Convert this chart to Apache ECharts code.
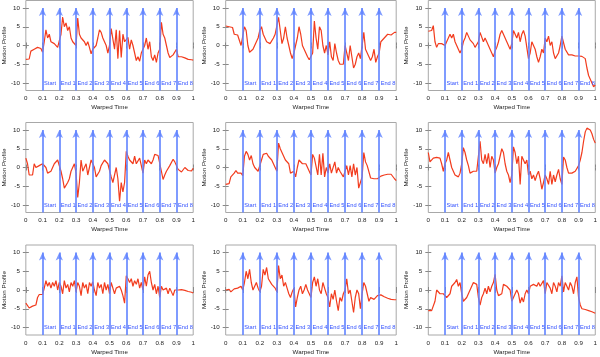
<!DOCTYPE html>
<html><head><meta charset="utf-8">
<script src="https://cdn.jsdelivr.net/npm/echarts@6/dist/echarts.min.js"></script>
<style>html,body{margin:0;padding:0;background:#fff}#c{width:600px;height:357px}</style>
</head><body><div id="c"></div>
<script>
const times = [0,0.01,0.02,0.03,0.04,0.05,0.06,0.07,0.08,0.09,0.1,0.11,0.12,0.13,0.14,0.15,0.16,0.17,0.18,0.19,0.2,0.21,0.22,0.23,0.24,0.25,0.26,0.27,0.28,0.29,0.3,0.31,0.32,0.33,0.34,0.35,0.36,0.37,0.38,0.39,0.4,0.41,0.42,0.43,0.44,0.45,0.46,0.47,0.48,0.49,0.5,0.51,0.52,0.53,0.54,0.55,0.56,0.57,0.58,0.59,0.6,0.61,0.62,0.63,0.64,0.65,0.66,0.67,0.68,0.69,0.7,0.71,0.72,0.73,0.74,0.75,0.76,0.77,0.78,0.79,0.8,0.81,0.82,0.83,0.84,0.85,0.86,0.87,0.88,0.89,0.9,0.91,0.92,0.93,0.94,0.95,0.96,0.97,0.98,0.99,1];
const arrowTimes = [0.1,0.2,0.3,0.4,0.5,0.6,0.7,0.8,0.9];
const arrowLabels = ['Start','End 1','End 2','End 3','End 4','End 5','End 6','End 7','End 8'];
const yTicks = [-10,-5,0,5,10];

const profile1 = [-3.7,-3.7,-3.6,-1.5,-1.0,-1.0,-0.7,-0.5,-0.3,-0.8,-1.8,1.0,4.2,2.0,3.0,1.0,1.5,0.5,0.0,-0.5,-0.8,3.0,7.6,5.0,6.0,4.0,5.0,2.0,1.0,1.5,0.0,7.3,3.0,2.0,2.5,1.0,0.0,1.0,-0.5,-2.2,-1.0,-1.5,0.0,2.0,4.2,3.5,2.0,1.0,0.0,-2.0,0.0,4.5,5.0,-1.0,4.2,-3.5,4.0,-3.2,3.0,1.0,0.5,2.2,-1.0,1.5,0.0,-2.0,-4.0,-3.0,-4.2,-2.0,-1.0,0.0,2.0,-1.0,1.0,-3.0,-4.0,-2.5,-4.5,-2.0,-1.0,6.2,3.0,2.0,0.0,-2.0,-3.2,-3.0,-2.5,-3.0,-1.0,-3.0,-2.8,-3.0,-3.2,-3.3,-3.5,-3.7,-3.8,-3.8,-3.9];
const profile2 = [5.2,5.0,5.0,5.0,4.8,3.0,2.8,2.8,3.0,0.0,-0.5,5.0,4.0,0.0,-1.8,-1.5,-1.0,0.0,1.0,2.0,4.0,5.0,3.0,2.0,1.0,0.5,0.5,1.0,2.0,3.0,3.5,7.5,4.0,0.5,2.0,5.0,2.0,0.0,-2.0,-3.5,-2.0,0.0,2.0,5.0,3.0,0.0,-1.0,-2.0,-3.0,-3.8,-3.5,-2.0,6.5,2.0,-1.0,5.0,4.0,0.0,-2.0,0.0,-2.5,1.0,-3.0,-4.0,0.5,-2.0,-4.0,-5.0,-5.5,-5.0,0.0,-2.0,-4.0,0.0,-3.0,-6.0,-5.0,-3.0,-2.0,-3.5,-3.8,3.5,-1.0,-2.0,-3.0,-4.0,-3.0,-1.0,-4.5,-3.0,-2.0,1.0,1.5,2.0,2.5,3.0,3.0,2.8,3.2,3.5,3.5];
const profile3 = [3.8,3.7,4.0,5.3,1.0,-0.5,0.5,1.0,0.5,0.3,0.0,1.0,2.0,3.0,2.0,3.0,1.0,0.0,-1.0,-2.0,-1.0,1.0,2.0,3.5,3.0,1.5,1.0,0.5,-0.5,0.0,1.0,3.5,3.0,1.0,2.0,1.0,0.0,0.5,-2.0,-3.0,-1.5,-0.5,1.0,3.0,4.0,3.0,3.5,1.0,0.5,-1.0,0.5,4.0,4.5,2.0,3.5,1.0,3.0,4.0,2.5,3.0,-3.5,-2.0,1.0,0.0,-1.0,-3.0,-4.5,-3.0,-1.0,-2.0,2.0,1.0,2.5,0.0,1.0,-2.0,-3.5,-4.0,-2.0,0.0,2.5,2.0,-1.0,-1.5,-2.5,-2.2,-2.5,-2.8,-2.8,-2.8,-2.8,-2.8,-2.9,-3.0,-3.5,-6.0,-8.0,-9.0,-10.0,-11.0,-10.5];
const profile4 = [2.5,1.0,-2.0,-1.5,-2.0,1.0,0.0,0.5,0.5,1.0,1.0,1.5,0.0,-1.5,-1.5,-1.0,0.0,1.0,1.5,2.0,1.5,-1.0,-3.0,-5.5,-6.0,-4.0,-3.0,-1.0,0.0,1.0,-1.5,-8.0,-4.0,2.0,-1.0,0.0,1.0,-2.0,0.0,2.0,1.0,0.0,-2.5,-2.0,-1.0,0.5,1.0,2.0,1.5,1.0,1.5,-2.5,-4.0,-2.0,0.0,-3.0,-9.0,-4.0,-6.5,-4.0,4.3,3.0,2.0,2.5,1.0,3.0,1.0,1.0,2.5,0.5,-1.5,2.0,1.0,2.0,2.5,1.0,2.0,3.5,3.0,3.2,3.0,-1.0,-3.2,-2.0,-1.0,-0.5,0.5,1.0,2.2,1.5,0.5,-0.5,-1.0,-1.2,-1.0,0.0,-0.5,-0.8,-1.0,-0.9,-0.2];
const profile5 = [-4.5,-4.5,-4.3,-2.5,-2.0,-1.5,-0.8,-1.5,-1.8,-1.5,-2.2,3.0,4.3,3.5,2.0,3.2,1.0,0.0,0.5,-1.0,-1.5,2.0,3.5,3.0,3.8,3.0,3.5,2.0,1.5,0.0,-1.0,6.5,5.0,4.0,3.0,2.0,1.5,1.0,-1.5,-2.0,-1.0,-2.5,0.0,2.0,1.5,1.0,0.5,1.0,0.0,-0.5,-2.0,3.5,2.5,3.0,-2.0,3.5,-2.0,3.8,-2.5,0.0,-1.5,1.0,-1.5,-1.0,1.5,-1.5,0.0,-1.0,-1.5,-2.5,-1.0,0.5,-2.0,0.5,-2.5,1.0,-2.0,0.0,-5.5,-4.0,-2.5,4.0,1.5,0.5,0.5,-2.8,-2.5,-3.0,-3.2,-3.0,-2.5,-2.3,-2.2,-2.0,-1.8,-1.8,-1.6,-1.8,-2.2,-3.0,-3.5];
const profile6 = [4.0,1.5,2.0,2.5,2.8,2.7,2.5,2.5,1.0,-1.0,1.0,2.0,4.0,2.0,0.0,-1.0,-2.0,-2.5,-2.5,-1.5,1.0,5.3,4.0,2.0,0.5,-1.5,-2.0,-1.0,-1.5,-1.0,-1.5,7.0,2.0,1.0,3.5,1.0,3.8,0.0,3.0,2.0,-1.5,0.0,1.0,3.0,5.0,4.0,1.0,-1.0,-2.0,-4.0,-2.0,5.5,4.0,1.0,3.0,-4.5,3.0,2.5,1.0,2.0,-2.0,-1.0,-3.0,-2.0,-3.5,-2.0,-1.0,-3.0,-5.8,-4.0,-2.0,-3.0,-4.5,-1.0,-4.5,-2.0,-3.8,-2.0,-0.5,-3.0,-4.5,2.8,2.0,0.0,-1.5,-2.0,-1.5,-2.0,-1.0,-0.5,0.5,2.0,4.0,7.0,9.5,10.5,10.5,10.0,9.0,7.5,6.5];
const profile7 = [-3.5,-3.0,-4.8,-4.5,-4.3,-4.0,-4.0,-2.0,-1.2,-1.0,-1.2,0.5,2.5,1.0,2.0,0.5,2.0,1.0,2.5,0.0,2.0,1.0,-1.0,2.5,0.5,1.5,-0.5,2.0,1.0,2.5,-0.5,2.0,1.0,-1.5,2.0,0.5,1.5,-1.0,2.0,1.0,2.2,0.0,-1.5,2.0,0.5,1.5,-1.0,2.0,0.0,1.5,-1.0,2.0,0.5,-1.0,0.5,0.0,1.0,0.0,-1.5,-3.5,3.8,3.0,2.0,3.0,1.0,2.5,1.5,3.0,0.5,2.0,0.0,3.5,1.0,4.0,5.0,2.0,0.0,1.5,-1.0,1.0,-2.0,1.0,0.0,-0.5,0.5,-1.0,0.5,-0.5,-1.5,0.0,-0.3,0.0,0.2,0.1,0.0,-0.1,-0.3,-0.4,-0.5,-0.6,-0.8];
const profile8 = [0.0,0.5,0.2,-0.5,0.0,0.3,0.5,0.5,0.8,1.0,0.0,2.0,5.0,3.0,5.5,2.0,0.0,1.0,2.0,0.5,-0.5,1.0,5.5,4.0,6.0,3.0,3.5,1.5,2.0,0.5,-0.5,6.5,3.0,4.0,1.0,2.0,0.5,-1.0,-2.0,-0.5,0.5,-4.5,-2.0,0.0,1.0,-1.0,0.0,1.5,0.0,-1.0,-2.0,2.0,3.5,1.0,3.0,0.0,-1.0,2.0,0.5,-1.0,-2.0,-4.5,-1.0,-2.5,0.0,-3.0,-5.5,-2.0,-3.0,-1.0,0.0,3.0,-1.0,0.0,-3.0,-6.0,-2.0,0.0,-1.0,-5.0,-1.0,2.0,1.0,-1.0,-3.0,-2.0,-1.5,-2.5,-2.0,-1.5,-1.2,-1.3,-1.5,-1.8,-2.0,-2.2,-2.3,-2.5,-2.6,-2.6,-2.6];
const profile9 = [-5.5,-5.3,-5.5,-5.3,-3.0,0.0,-0.5,-1.0,-0.5,-1.0,-1.5,-2.0,-1.5,-1.0,1.0,1.5,2.0,2.8,1.0,2.0,-1.0,-3.0,-3.0,-2.0,-1.0,0.0,1.0,2.0,2.0,1.5,-2.0,-4.0,-2.0,-1.0,0.5,-1.0,1.0,-0.5,1.0,2.0,4.2,0.0,-1.5,-2.0,-1.0,1.5,2.0,1.0,1.5,0.0,-3.0,-2.0,-1.5,0.0,-1.0,-3.5,-2.0,-3.2,-1.0,0.0,-1.0,1.0,0.5,1.5,2.0,1.0,2.0,1.0,0.5,2.5,-1.0,2.0,1.5,0.5,-1.0,2.0,1.0,-0.5,2.0,1.0,3.8,-0.5,2.0,2.5,0.0,2.0,1.0,-1.0,2.0,3.5,-2.0,-4.0,-5.0,-5.0,-5.2,-5.3,-5.5,-5.6,-5.8,-6.0,-6.2];
const profiles = [profile1,profile2,profile3,profile4,profile5,profile6,profile7,profile8,profile9];

const FONT = '"Liberation Sans", Arial, Helvetica, sans-serif';
const colLeft = [22.7, 225.7, 428.3];
const rowTop = [0.5, 122.5, 245];
const W = 170.5, H = 90;

const grids = [], xAxes = [], yAxes = [], series = [];
const tickStyle = {inside: true, length: 3, lineStyle: {color: '#888', width: 1}};
profiles.forEach((prof, i) => {
  const r = Math.floor(i / 3), c = i % 3;
  grids.push({left: colLeft[c], top: rowTop[r], width: W, height: H, show: true,
    borderColor: '#a8a8a8', borderWidth: 1, backgroundColor: 'transparent'});
  const xBase = {gridIndex: i, type: 'value', min: 0, max: 1, interval: 0.1,
    axisLine: {show: false}, splitLine: {show: false}, axisTick: tickStyle};
  xAxes.push(Object.assign({}, xBase, {position: 'bottom', name: 'Warped Time',
    nameLocation: 'middle', nameGap: 14,
    nameTextStyle: {fontSize: 6.2, color: '#222', fontFamily: FONT},
    axisLabel: {fontSize: 6.2, color: '#222', margin: 5, fontFamily: FONT,
      formatter: v => String(+v.toFixed(1))}}));
  xAxes.push(Object.assign({}, xBase, {position: 'top', axisLabel: {show: false}}));
  const yBase = {gridIndex: i, type: 'value', min: -12, max: 12,
    axisLine: {show: false}, splitLine: {show: false},
    axisTick: Object.assign({customValues: yTicks}, tickStyle)};
  yAxes.push(Object.assign({}, yBase, {position: 'left', name: 'Motion Profile',
    nameLocation: 'middle', nameGap: 16, nameRotate: 90,
    nameTextStyle: {fontSize: 6.2, color: '#222', fontFamily: FONT},
    axisLabel: {customValues: yTicks, fontSize: 6.2, color: '#222', margin: 6, fontFamily: FONT}}));
  yAxes.push(Object.assign({}, yBase, {position: 'right', axisLabel: {show: false}}));
  series.push({type: 'line', xAxisIndex: 2 * i, yAxisIndex: 2 * i,
    data: times.map((t, k) => [t, prof[k]]), showSymbol: false, clip: true,
    lineStyle: {color: '#f23c1e', width: 1.2}, z: 2, animation: false});
  series.push({type: 'line', xAxisIndex: 2 * i, yAxisIndex: 2 * i, data: [], z: 3,
    markLine: {silent: true, animation: false, symbol: ['none', 'arrow'], symbolSize: [5.5, 8],
      lineStyle: {color: 'rgba(95,130,255,0.8)', width: 2, type: 'solid'},
      label: {show: false}, emphasis: {disabled: true},
      data: arrowTimes.map(t => [{coord: [t, -12]}, {coord: [t, 10]}])}
  });
  series.push({type: 'custom', xAxisIndex: 2 * i, yAxisIndex: 2 * i, clip: true, z: 5,
    data: arrowTimes.map((t, k) => [t, -10, k]), animation: false,
    renderItem: (params, api) => {
      const p = api.coord([api.value(0), api.value(1)]);
      return {type: 'text', x: p[0] + 1.5, y: p[1],
        style: {text: arrowLabels[api.value(2)], fill: '#3452ff', fontSize: 5.7,
          fontFamily: FONT, align: 'left', verticalAlign: 'middle'}};
    }
  });
});

const chart = echarts.init(document.getElementById('c'));
chart.setOption({animation: false, grid: grids, xAxis: xAxes, yAxis: yAxes, series: series});
</script>
</body></html>
